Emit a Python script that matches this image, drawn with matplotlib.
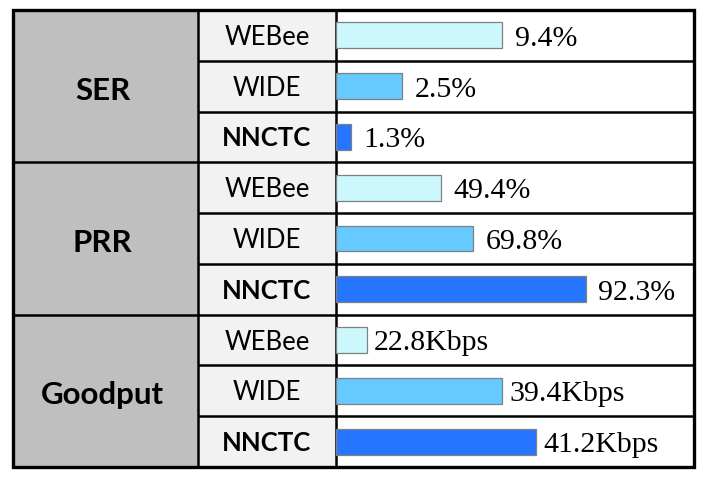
import matplotlib
matplotlib.use("Agg")
import matplotlib.pyplot as plt
from matplotlib.patches import Rectangle

# ---- data ----
metrics = ["SER", "PRR", "Goodput"]
methods = ["WEBee", "WIDE", "NNCTC"]
value_labels = [
    ["9.4%", "2.5%", "1.3%"],
    ["49.4%", "69.8%", "92.3%"],
    ["22.8Kbps", "39.4Kbps", "41.2Kbps"],
]
# drawn bar length as a fraction of the bar column (read off the picture,
# the original bars are not proportional to the numbers)
bar_len = [
    [0.464, 0.185, 0.042],
    [0.293, 0.383, 0.698],
    [0.087, 0.464, 0.559],
]
bar_colors = ["#CCF7FD", "#66C9FF", "#2675FF"]

# ---- layout (pixels) ----
W, H = 706, 478
left, right, top, bottom = 13, 694, 10, 467
col_edges = [left, 198, 336, right]
n_rows = len(metrics) * len(methods)

fig = plt.figure(figsize=(W / 100, H / 100), dpi=100)

# table axes in pixel-like units
ax = fig.add_axes([0, 0, 1, 1])
ax.set_xlim(0, W)
ax.set_ylim(H, 0)
ax.axis("off")

row_h = (bottom - top) / n_rows

# column fills
ax.add_patch(Rectangle((col_edges[0], top), col_edges[1] - col_edges[0],
                       bottom - top, facecolor="#BFBFBF", edgecolor="none"))
ax.add_patch(Rectangle((col_edges[1], top), col_edges[2] - col_edges[1],
                       bottom - top, facecolor="#F2F2F2", edgecolor="none"))

# bar axes over the third column
bx = fig.add_axes([col_edges[2] / W, 1 - bottom / H,
                   (col_edges[3] - col_edges[2]) / W, (bottom - top) / H])
bx.set_xlim(0, 1)
bx.set_ylim(n_rows, 0)
bx.axis("off")
bx.patch.set_alpha(0)

for i, metric in enumerate(metrics):
    y0 = top + i * 3 * row_h
    ax.text((col_edges[0] + col_edges[1]) / 2 - 3, y0 + 1.5 * row_h + 13.5,
            metric, ha="center", va="baseline", fontsize=22.5,
            fontweight="bold", family="Lato")
    for j, method in enumerate(methods):
        r = i * 3 + j
        yc = top + (r + 0.5) * row_h
        ax.text((col_edges[1] + col_edges[2]) / 2, yc + 9.5, method,
                ha="center", va="baseline", fontsize=18.5, family="Lato",
                fontweight="bold" if method == "NNCTC" else "normal")
        bx.barh(r + 0.5, bar_len[i][j], height=0.51, left=0,
                color=bar_colors[j], edgecolor="#808080", linewidth=0.9)
        pad = 9 if metric != "Goodput" else 5
        bx.annotate(value_labels[i][j], (bar_len[i][j], r + 0.5),
                    xytext=(pad, -7.5), textcoords="offset points",
                    ha="left", va="baseline", fontsize=21.5,
                    family="Liberation Serif")

# grid lines
for r in range(1, n_rows):
    y = top + r * row_h
    x_start = col_edges[0] if r % 3 == 0 else col_edges[1]
    ax.plot([x_start, right], [y, y], color="black", lw=1.8,
            solid_capstyle="butt")
for x in col_edges[1:-1]:
    ax.plot([x, x], [top, bottom], color="black", lw=1.8)
ax.add_patch(Rectangle((left, top), right - left, bottom - top,
                       facecolor="none", edgecolor="black", lw=2.4))

fig.savefig("out.png", dpi=100)
